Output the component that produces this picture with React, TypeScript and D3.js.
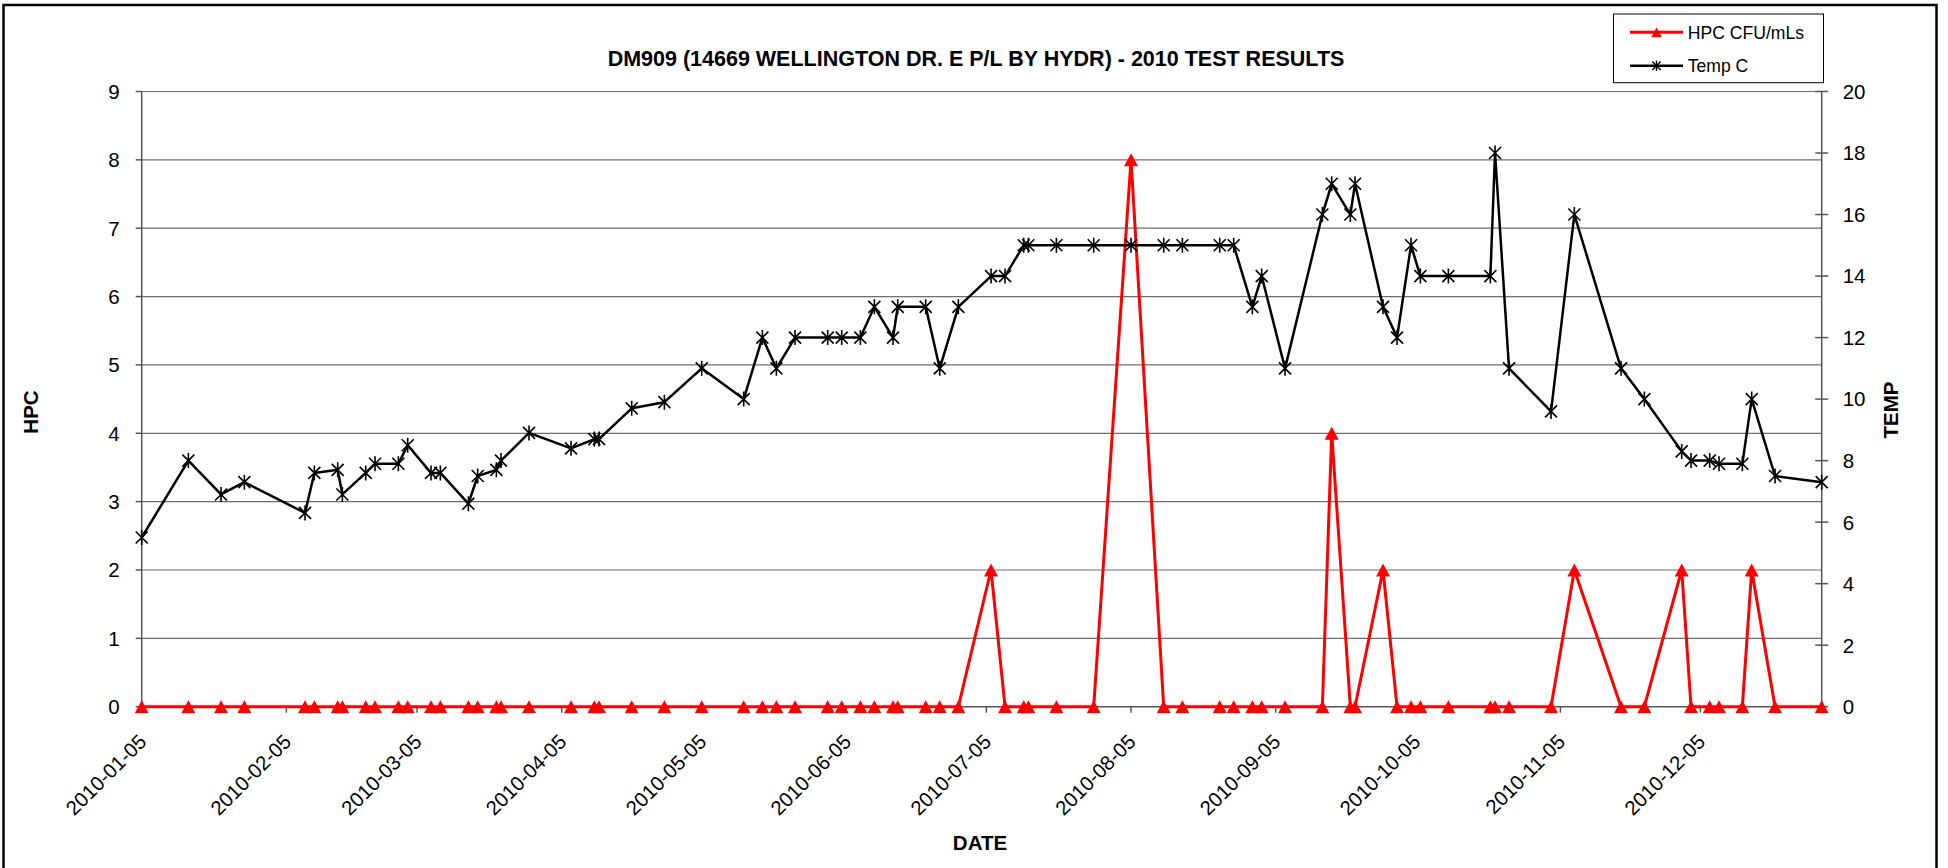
import * as d3 from 'd3';

// sample dates shared by both series
const sampleDates = [
  '2010-01-05', '2010-01-15', '2010-01-22', '2010-01-27', '2010-02-09', '2010-02-11', '2010-02-16', '2010-02-17',
  '2010-02-22', '2010-02-24', '2010-03-01', '2010-03-03', '2010-03-08', '2010-03-10', '2010-03-16', '2010-03-18',
  '2010-03-22', '2010-03-23', '2010-03-29', '2010-04-07', '2010-04-12', '2010-04-13', '2010-04-20', '2010-04-27',
  '2010-05-05', '2010-05-14', '2010-05-18', '2010-05-21', '2010-05-25', '2010-06-01', '2010-06-04', '2010-06-08',
  '2010-06-11', '2010-06-15', '2010-06-16', '2010-06-22', '2010-06-25', '2010-06-29', '2010-07-06', '2010-07-09',
  '2010-07-13', '2010-07-14', '2010-07-20', '2010-07-28', '2010-08-05', '2010-08-12', '2010-08-16', '2010-08-24',
  '2010-08-27', '2010-08-31', '2010-09-02', '2010-09-07', '2010-09-15', '2010-09-17', '2010-09-21', '2010-09-22',
  '2010-09-28', '2010-10-01', '2010-10-04', '2010-10-06', '2010-10-12', '2010-10-21', '2010-10-22', '2010-10-25',
  '2010-11-03', '2010-11-08', '2010-11-18', '2010-11-23', '2010-12-01', '2010-12-03', '2010-12-07', '2010-12-09',
  '2010-12-14', '2010-12-16', '2010-12-21', '2010-12-31',
];

// HPC CFU/mLs (left axis)
const hpcValues = [
  0, 0, 0, 0, 0, 0, 0, 0, 0, 0, 0, 0, 0, 0, 0, 0,
  0, 0, 0, 0, 0, 0, 0, 0, 0, 0, 0, 0, 0, 0, 0, 0,
  0, 0, 0, 0, 0, 0, 2, 0, 0, 0, 0, 0, 8, 0, 0, 0,
  0, 0, 0, 0, 0, 4, 0, 0, 2, 0, 0, 0, 0, 0, 0, 0,
  0, 2, 0, 0, 2, 0, 0, 0, 0, 2, 0, 0,
];

// Temp C (right axis)
const tempValues = [
  5.5, 8, 6.9, 7.3, 6.3, 7.6, 7.7, 6.9, 7.6, 7.9, 7.9, 8.5, 7.6, 7.6, 6.6, 7.5,
  7.7, 8, 8.9, 8.4, 8.7, 8.7, 9.7, 9.9, 11, 10, 12, 11, 12, 12, 12, 12,
  13, 12, 13, 13, 11, 13, 14, 14, 15, 15, 15, 15, 15, 15, 15, 15,
  15, 13, 14, 11, 16, 17, 16, 17, 13, 12, 15, 14, 14, 14, 18, 11,
  9.6, 16, 11, 10, 8.3, 8, 8, 7.9, 7.9, 10, 7.5, 7.3,
];

const xTickLabels = [
  '2010-01-05', '2010-02-05', '2010-03-05', '2010-04-05', '2010-05-05', '2010-06-05',
  '2010-07-05', '2010-08-05', '2010-09-05', '2010-10-05', '2010-11-05', '2010-12-05',
];
const hpcTicks = [0, 1, 2, 3, 4, 5, 6, 7, 8, 9];
const tempTicks = [0, 2, 4, 6, 8, 10, 12, 14, 16, 18, 20];

const TITLE = 'DM909 (14669 WELLINGTON DR. E P/L BY HYDR) - 2010 TEST RESULTS';
const FONT = '"Liberation Sans", Arial, sans-serif';

export default function App() {
  const W = 1948;
  const H = 868;
  const M = { left: 141.7, right: 1821.7, top: 91.5, bottom: 706.7 };

  const parse = d3.utcParse('%Y-%m-%d');
  const dates = sampleDates.map((d) => parse(d));

  const x = d3
    .scaleUtc()
    .domain([dates[0], dates[dates.length - 1]])
    .range([M.left, M.right]);
  const yL = d3.scaleLinear().domain([0, 9]).range([M.bottom, M.top]);
  const yR = d3.scaleLinear().domain([0, 20]).range([M.bottom, M.top]);

  const hpcData = dates.map((d, i) => ({ d, v: hpcValues[i] }));
  const tempData = dates.map((d, i) => ({ d, v: tempValues[i] }));

  const hpcLine = d3
    .line<any>()
    .x((p) => x(p.d))
    .y((p) => yL(p.v))(hpcData);
  const tempLine = d3
    .line<any>()
    .x((p) => x(p.d))
    .y((p) => yR(p.v))(tempData);

  const tri = 'M0,-6.5L7,6.5L-7,6.5Z';
  const star = 'M-6,-6L6,6M-6,6L6,-6M0,-7.5L0,7.5';

  return (
    <div style={{ position: 'absolute', left: 0, top: 0 }}>
      <svg width={W} height={H} style={{ display: 'block', fontFamily: FONT }}>
        <rect x={0} y={0} width={W} height={H} fill='#fff' />
        {/* outer chart frame */}
        <rect x={3.5} y={5} width={1933} height={880} fill='none' stroke='#000' strokeWidth={2.5} />

        {/* title */}
        <text x={976} y={65.7} textAnchor='middle' fontSize={21.5} fontWeight='bold'>
          {TITLE}
        </text>

        {/* gridlines (left axis) */}
        <g stroke='#6e6e6e' strokeWidth={1.2}>
          {hpcTicks.slice(1).map((t) => (
            <line key={t} x1={M.left} x2={M.right} y1={yL(t)} y2={yL(t)} />
          ))}
        </g>

        {/* left axis */}
        <g stroke='#555' strokeWidth={1.5}>
          <line x1={M.left} x2={M.left} y1={M.top} y2={M.bottom} />
          {hpcTicks.map((t) => (
            <line key={t} x1={M.left - 6} x2={M.left} y1={yL(t)} y2={yL(t)} />
          ))}
        </g>
        <g fontSize={20.5} textAnchor='end'>
          {hpcTicks.map((t) => (
            <text key={t} x={M.left - 22} y={yL(t)} dy='0.36em'>
              {t}
            </text>
          ))}
        </g>
        <text
          transform={`translate(38,${412}) rotate(-90)`}
          textAnchor='middle'
          fontSize={20.5}
          fontWeight='bold'
        >
          HPC
        </text>

        {/* right axis */}
        <g stroke='#555' strokeWidth={1.5}>
          <line x1={M.right} x2={M.right} y1={M.top} y2={M.bottom} />
          {tempTicks.map((t) => (
            <line key={t} x1={M.right - 6.5} x2={M.right + 6.5} y1={yR(t)} y2={yR(t)} />
          ))}
        </g>
        <g fontSize={20.5} textAnchor='start'>
          {tempTicks.map((t) => (
            <text key={t} x={M.right + 21} y={yR(t)} dy='0.36em'>
              {t}
            </text>
          ))}
        </g>
        <text
          transform={`translate(1898,${410}) rotate(-90)`}
          textAnchor='middle'
          fontSize={20.5}
          fontWeight='bold'
        >
          TEMP
        </text>

        {/* x axis */}
        <g stroke='#555' strokeWidth={1.5}>
          <line x1={M.left} x2={M.right} y1={M.bottom} y2={M.bottom} />
          {xTickLabels.map((t) => (
            <line key={t} x1={x(parse(t))} x2={x(parse(t))} y1={M.bottom} y2={M.bottom + 6} />
          ))}
        </g>
        <g fontSize={20.3} textAnchor='end'>
          {xTickLabels.map((t) => (
            <text key={t} transform={`translate(${x(parse(t)) + 1},738) rotate(-45)`} dy='0.35em'>
              {t}
            </text>
          ))}
        </g>
        <text x={980} y={850} textAnchor='middle' fontSize={20.5} fontWeight='bold'>
          DATE
        </text>

        {/* HPC series */}
        <path d={hpcLine} fill='none' stroke='#ff0000' strokeWidth={3} strokeLinejoin='round' />
        <g fill='#ff0000'>
          {hpcData.map((p, i) => (
            <path key={i} d={tri} transform={`translate(${x(p.d)},${yL(p.v)})`} />
          ))}
        </g>

        {/* Temp series */}
        <path d={tempLine} fill='none' stroke='#000' strokeWidth={2.5} strokeLinejoin='round' />
        <g stroke='#000' strokeWidth={1.6} fill='none'>
          {tempData.map((p, i) => (
            <path key={i} d={star} transform={`translate(${x(p.d)},${yR(p.v)})`} />
          ))}
        </g>

        {/* legend */}
        <rect x={1613.5} y={14} width={210} height={68.7} fill='#fff' stroke='#000' strokeWidth={1} />
        <line x1={1630} x2={1683} y1={32.3} y2={32.3} stroke='#ff0000' strokeWidth={3} />
        <path d={tri} transform='translate(1656.5,32.3) scale(0.75)' fill='#ff0000' />
        <text x={1687.7} y={32.3} dy='0.36em' fontSize={17.6}>
          HPC CFU/mLs
        </text>
        <line x1={1630} x2={1683} y1={65.7} y2={65.7} stroke='#000' strokeWidth={2.5} />
        <path d={star} transform='translate(1656.5,65.7) scale(0.7)' stroke='#000' strokeWidth={2} fill='none' />
        <text x={1687.7} y={65.7} dy='0.36em' fontSize={17.6}>
          Temp C
        </text>
      </svg>
    </div>
  );
}
